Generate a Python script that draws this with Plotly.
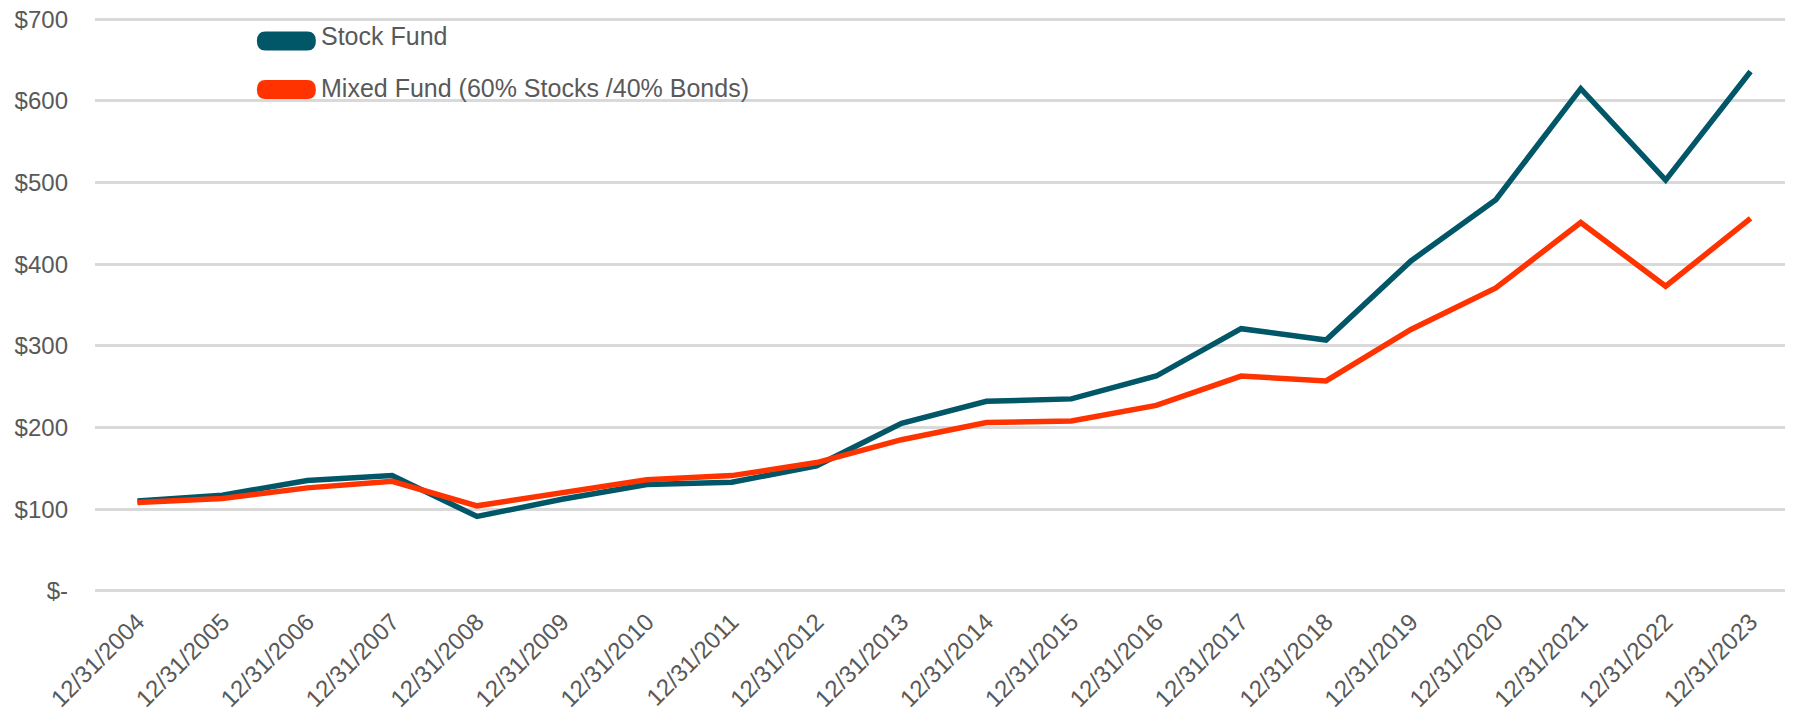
"""
Growth of a hypothetical investment: stock fund vs 60/40 mixed fund, 2004-2023.
"""

import plotly.graph_objects as go

DATES = [
    "12/31/2004", "12/31/2005", "12/31/2006", "12/31/2007", "12/31/2008",
    "12/31/2009", "12/31/2010", "12/31/2011", "12/31/2012", "12/31/2013",
    "12/31/2014", "12/31/2015", "12/31/2016", "12/31/2017", "12/31/2018",
    "12/31/2019", "12/31/2020", "12/31/2021", "12/31/2022", "12/31/2023",
]

stock_fund = [110, 117, 135, 141, 91, 112, 130, 133, 153, 205,
              232, 235, 263, 321, 307, 404, 479, 615, 503, 636]
mixed_fund = [108, 113, 126, 134, 104, 120, 136, 141, 157, 185,
              206, 208, 227, 263, 257, 320, 371, 451, 373, 456]

SERIES_NAMES = ["Stock Fund", "Mixed Fund (60% Stocks /40% Bonds)"]
COLORS = ["#015667", "#FF3300"]

Y_TICKS = [0, 100, 200, 300, 400, 500, 600, 700]
Y_TICK_TEXT = ["$-", "$100", "$200", "$300", "$400", "$500", "$600", "$700"]

FONT = "Liberation Sans, Arial, sans-serif"
GREY = "#595959"

fig = go.Figure()

for name, vals, col in zip(SERIES_NAMES, [stock_fund, mixed_fund], COLORS):
    fig.add_trace(go.Scatter(
        x=DATES, y=vals, name=name, mode="lines",
        line=dict(color=col, width=5.5),
        showlegend=False,
    ))

# hand-made legend (rounded swatches like the original)
swatch = ("M -21,-9.5 L 21,-9.5 Q 29.5,-9.5 29.5,0 Q 29.5,9.5 21,9.5 "
          "L -21,9.5 Q -29.5,9.5 -29.5,0 Q -29.5,-9.5 -21,-9.5 Z")
legend_pos = [(0.9567, 0.9660), (0.8728, 0.8760)]
for (sy, ty), name, col in zip(legend_pos, SERIES_NAMES, COLORS):
    fig.add_shape(
        type="path", path=swatch,
        xref="paper", yref="paper",
        xsizemode="pixel", ysizemode="pixel",
        xanchor=0.1127, yanchor=sy,
        fillcolor=col, line=dict(width=0),
    )
    fig.add_annotation(
        x=0.1321, y=ty, xref="paper", yref="paper",
        text=name, showarrow=False,
        xanchor="left", yanchor="middle",
        font=dict(family=FONT, size=25, color=GREY),
    )

# page body keeps its default 8px margin, so the figure is 8px smaller
fig.update_layout(
    width=1785,
    height=701,
    paper_bgcolor="white",
    plot_bgcolor="white",
    margin=dict(l=87, r=0, t=8, b=115),
    font=dict(family=FONT, size=24, color=GREY),
    xaxis=dict(
        type="category",
        range=[-0.5, 19.5],
        tickangle=-45,
        showgrid=False,
        showline=False,
        ticks="",
        automargin=False,
        ticklabelstandoff=8,
        ticklabeloverflow="allow",
        tickfont=dict(size=24, color=GREY),
    ),
    yaxis=dict(
        range=[-4, 704],
        tickvals=Y_TICKS,
        ticktext=Y_TICK_TEXT,
        showgrid=True,
        gridcolor="#D9D9D9",
        gridwidth=2.5,
        zeroline=False,
        showline=False,
        ticks="",
        automargin=False,
        ticklabelstandoff=26,
        ticklabeloverflow="allow",
        tickfont=dict(size=24, color=GREY),
    ),
)

fig.write_html("out.html")
